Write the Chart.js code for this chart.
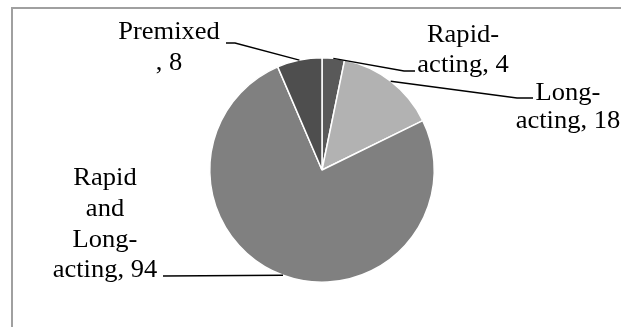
<!DOCTYPE html>
<html lang="en">
<head>
    <meta charset="UTF-8">
    <title>Insulin regimens</title>
    <script src="https://cdn.jsdelivr.net/npm/chart.js"></script>
    <style>
        html, body { margin: 0; padding: 0; background: #fff; }
        #wrap { width: 621px; height: 327px; }
    </style>
</head>
<body>
    <div id="wrap"><canvas id="pieChart" width="621" height="327"></canvas></div>
    <script>
        // Regimen categories (clockwise from 12 o'clock) and patient counts
        const categories = ['Rapid-acting', 'Long-acting', 'Rapid and Long-acting', 'Premixed'];
        const patients = [4, 18, 94, 8];
        const sliceColors = ['#595959', '#b2b2b2', '#808080', '#4e4e4e'];

        // How each category name wraps inside its label; the value goes on the last line
        const labelWraps = [
            ['Rapid-', 'acting'],
            ['Long-', 'acting'],
            ['Rapid', 'and', 'Long-', 'acting'],
            ['Premixed', '']
        ];

        // Label placement: text centre x, line baselines, leader path (elbow then end)
        const labelSpots = [
            { x: 463, base: [42, 72], leader: [[404, 71], [415, 71]] },
            { x: 568, base: [100, 128], leader: [[517, 98], [533, 98]] },
            { x: 105, base: [185, 216, 247, 277], leader: [[163, 276]] },
            { x: 169, base: [39, 70], leader: [[235, 43], [226, 43]] }
        ];

        const LABEL_FONT = '25.5px "Liberation Serif", "Times New Roman", Tinos, serif';

        const framePlugin = {
            id: 'frame',
            beforeDraw(chart) {
                const ctx = chart.ctx;
                ctx.save();
                ctx.strokeStyle = '#a0a0a0';
                ctx.lineWidth = 2;
                ctx.strokeRect(12, 8, 640, 340);
                ctx.restore();
            }
        };

        const calloutPlugin = {
            id: 'callouts',
            afterDatasetsDraw(chart) {
                const ctx = chart.ctx;
                const arcs = chart.getDatasetMeta(0).data;
                ctx.save();
                arcs.forEach((arc, i) => {
                    const p = arc.getProps(['x', 'y', 'startAngle', 'endAngle', 'outerRadius'], true);
                    const mid = (p.startAngle + p.endAngle) / 2;
                    const spot = labelSpots[i];

                    // leader line from the slice's outer edge to the label
                    ctx.strokeStyle = '#000';
                    ctx.lineWidth = 1.3;
                    ctx.beginPath();
                    ctx.moveTo(p.x + Math.cos(mid) * p.outerRadius, p.y + Math.sin(mid) * p.outerRadius);
                    spot.leader.forEach(pt => ctx.lineTo(pt[0], pt[1]));
                    ctx.stroke();

                    // wrapped label text, value appended to the last line
                    const lines = labelWraps[i].slice();
                    lines[lines.length - 1] += ', ' + patients[i];
                    ctx.fillStyle = '#000';
                    ctx.font = LABEL_FONT;
                    ctx.textAlign = 'center';
                    ctx.textBaseline = 'alphabetic';
                    lines.forEach((txt, k) => {
                        ctx.save();
                        ctx.translate(spot.x, spot.base[k]);
                        ctx.scale(1.04, 1);
                        ctx.fillText(txt, 0, 0);
                        ctx.restore();
                    });
                });
                ctx.restore();
            }
        };

        function drawChart() {
            new Chart(document.getElementById('pieChart'), {
                type: 'pie',
                data: {
                    labels: categories,
                    datasets: [{
                        data: patients,
                        backgroundColor: sliceColors,
                        borderColor: '#ffffff',
                        borderWidth: 1.5
                    }]
                },
                options: {
                    responsive: false,
                    animation: false,
                    layout: { padding: { left: 209, right: 186, top: 57, bottom: 44 } },
                    plugins: {
                        legend: { display: false },
                        tooltip: { enabled: false }
                    }
                },
                plugins: [framePlugin, calloutPlugin]
            });
        }

        document.fonts.load(LABEL_FONT).then(drawChart, drawChart);
    </script>
</body>
</html>
